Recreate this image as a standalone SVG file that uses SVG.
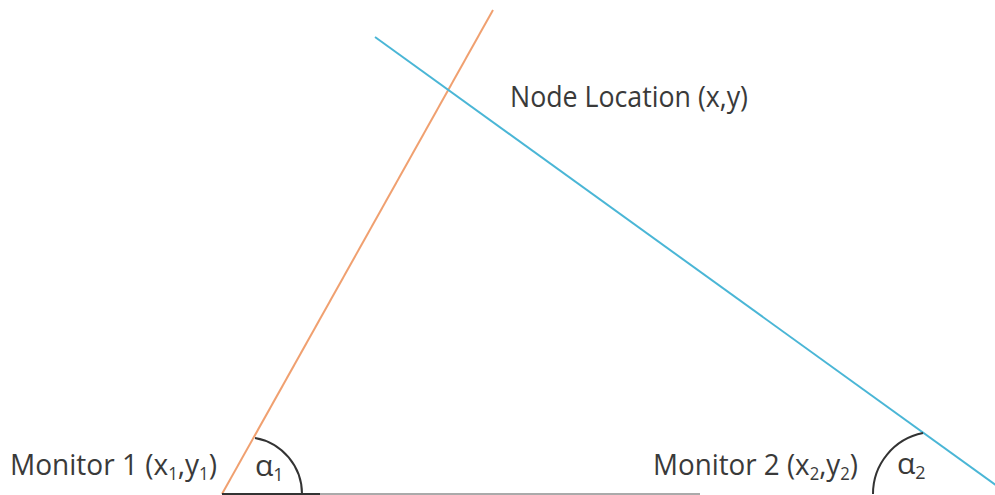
<svg xmlns="http://www.w3.org/2000/svg" width="995" height="495" viewBox="0 0 995 495">
<style>
.lbl{font-family:"Open Sans","Liberation Sans",sans-serif;font-size:30px;fill:#3a3a3a;}
.sub{font-size:18px;}
.arc{fill:none;stroke:#333;stroke-width:2;}
</style>
<rect width="995" height="495" fill="#fff"/>
<g id="connectors">
<line x1="222" y1="494" x2="493" y2="10" stroke="#F0A070" stroke-width="2"/>
<line x1="375" y1="37" x2="997" y2="486" stroke="#4AB6D6" stroke-width="2"/>
<line x1="222" y1="494" x2="320" y2="494" stroke="#333" stroke-width="2"/>
<line x1="320" y1="494" x2="700" y2="494" stroke="#aaa" stroke-width="2"/>
<path class="arc" d="M255,438 A57,57 0 0 1 302,494"/>
<path class="arc" d="M923,433 A62,62 0 0 0 873,494"/>
</g>
<g id="node-location">
<text class="lbl" x="510" y="107" textLength="238" lengthAdjust="spacingAndGlyphs">Node Location (x,y)</text>
</g>
<g id="monitor1">
<text class="lbl" x="10" y="475" textLength="207" lengthAdjust="spacingAndGlyphs">Monitor 1 (x<tspan class="sub" dy="5">1</tspan><tspan dy="-5">,y</tspan><tspan class="sub" dy="5">1</tspan><tspan dy="-5">)</tspan></text>
<text class="lbl" x="255" y="476">α<tspan class="sub" dy="5">1</tspan></text>
</g>
<g id="monitor2">
<text class="lbl" x="653" y="475" textLength="205" lengthAdjust="spacingAndGlyphs">Monitor 2 (x<tspan class="sub" dy="5">2</tspan><tspan dy="-5">,y</tspan><tspan class="sub" dy="5">2</tspan><tspan dy="-5">)</tspan></text>
<text class="lbl" x="897" y="474">α<tspan class="sub" dy="5">2</tspan></text>
</g>
</svg>
